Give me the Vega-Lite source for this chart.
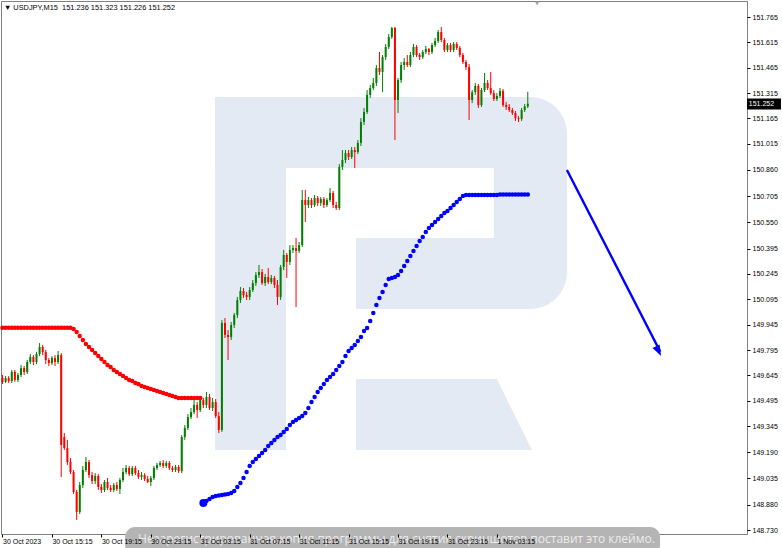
{
"$schema": "https://vega.github.io/schema/vega-lite/v6.json",
"width": 746, "height": 533,
"autosize": {"type": "none"},
"padding": {"left": 1, "top": 1, "right": 35, "bottom": 14},
"background": "white",
"config": {"view": {"stroke": "#808080", "strokeWidth": 1}, "font": "Liberation Sans"},
"datasets": {
"bars": [
{"t":"2023-10-30T11:15Z","o":149.629,"h":149.647,"l":149.594,"c":149.606,"r":149.927},
{"t":"2023-10-30T11:30Z","o":149.606,"h":149.641,"l":149.600,"c":149.629,"r":149.927},
{"t":"2023-10-30T11:45Z","o":149.629,"h":149.641,"l":149.600,"c":149.612,"r":149.927},
{"t":"2023-10-30T12:00Z","o":149.612,"h":149.677,"l":149.600,"c":149.665,"r":149.927},
{"t":"2023-10-30T12:15Z","o":149.665,"h":149.677,"l":149.606,"c":149.618,"r":149.927},
{"t":"2023-10-30T12:30Z","o":149.618,"h":149.659,"l":149.606,"c":149.647,"r":149.927},
{"t":"2023-10-30T12:45Z","o":149.647,"h":149.706,"l":149.635,"c":149.688,"r":149.927},
{"t":"2023-10-30T13:00Z","o":149.688,"h":149.700,"l":149.647,"c":149.665,"r":149.927},
{"t":"2023-10-30T13:15Z","o":149.665,"h":149.736,"l":149.653,"c":149.724,"r":149.927},
{"t":"2023-10-30T13:30Z","o":149.724,"h":149.771,"l":149.712,"c":149.754,"r":149.927},
{"t":"2023-10-30T13:45Z","o":149.754,"h":149.765,"l":149.706,"c":149.724,"r":149.927},
{"t":"2023-10-30T14:00Z","o":149.724,"h":149.783,"l":149.712,"c":149.771,"r":149.927},
{"t":"2023-10-30T14:15Z","o":149.771,"h":149.836,"l":149.759,"c":149.813,"r":149.927},
{"t":"2023-10-30T14:30Z","o":149.813,"h":149.825,"l":149.765,"c":149.783,"r":149.927},
{"t":"2023-10-30T14:45Z","o":149.783,"h":149.795,"l":149.712,"c":149.736,"r":149.927},
{"t":"2023-10-30T15:00Z","o":149.736,"h":149.748,"l":149.700,"c":149.718,"r":149.927},
{"t":"2023-10-30T15:15Z","o":149.718,"h":149.759,"l":149.706,"c":149.748,"r":149.927},
{"t":"2023-10-30T15:30Z","o":149.748,"h":149.765,"l":149.700,"c":149.724,"r":149.927},
{"t":"2023-10-30T15:45Z","o":149.724,"h":149.789,"l":149.712,"c":149.765,"r":149.927},
{"t":"2023-10-30T16:00Z","o":149.765,"h":149.777,"l":149.044,"c":149.233,"r":149.927},
{"t":"2023-10-30T16:15Z","o":149.280,"h":149.304,"l":149.204,"c":149.215,"r":149.927},
{"t":"2023-10-30T16:30Z","o":149.215,"h":149.263,"l":149.115,"c":149.132,"r":149.927},
{"t":"2023-10-30T16:45Z","o":149.132,"h":149.156,"l":149.061,"c":149.073,"r":149.927},
{"t":"2023-10-30T17:00Z","o":149.073,"h":149.085,"l":148.943,"c":148.955,"r":149.919},
{"t":"2023-10-30T17:15Z","o":148.955,"h":148.967,"l":148.790,"c":148.837,"r":149.901},
{"t":"2023-10-30T17:30Z","o":148.837,"h":149.014,"l":148.825,"c":148.996,"r":149.878},
{"t":"2023-10-30T17:45Z","o":148.996,"h":149.109,"l":148.979,"c":149.085,"r":149.854},
{"t":"2023-10-30T18:00Z","o":149.085,"h":149.162,"l":149.073,"c":149.132,"r":149.831},
{"t":"2023-10-30T18:15Z","o":149.132,"h":149.144,"l":149.038,"c":149.055,"r":149.813},
{"t":"2023-10-30T18:30Z","o":149.055,"h":149.073,"l":149.002,"c":149.020,"r":149.795},
{"t":"2023-10-30T18:45Z","o":149.020,"h":149.067,"l":149.002,"c":149.050,"r":149.777},
{"t":"2023-10-30T19:00Z","o":149.050,"h":149.061,"l":148.967,"c":148.985,"r":149.759},
{"t":"2023-10-30T19:15Z","o":148.985,"h":149.002,"l":148.949,"c":148.967,"r":149.742},
{"t":"2023-10-30T19:30Z","o":148.967,"h":149.026,"l":148.955,"c":149.014,"r":149.724},
{"t":"2023-10-30T19:45Z","o":149.014,"h":149.038,"l":148.967,"c":148.979,"r":149.706},
{"t":"2023-10-30T20:00Z","o":148.979,"h":148.996,"l":148.955,"c":148.967,"r":149.694},
{"t":"2023-10-30T20:15Z","o":148.967,"h":149.008,"l":148.955,"c":148.996,"r":149.677},
{"t":"2023-10-30T20:30Z","o":148.996,"h":149.014,"l":148.961,"c":148.973,"r":149.665},
{"t":"2023-10-30T20:45Z","o":148.973,"h":149.038,"l":148.943,"c":149.026,"r":149.653},
{"t":"2023-10-30T21:00Z","o":149.026,"h":149.097,"l":149.014,"c":149.073,"r":149.641},
{"t":"2023-10-30T21:15Z","o":149.073,"h":149.115,"l":149.061,"c":149.097,"r":149.629},
{"t":"2023-10-30T21:30Z","o":149.097,"h":149.109,"l":149.050,"c":149.061,"r":149.618},
{"t":"2023-10-30T21:45Z","o":149.061,"h":149.109,"l":149.050,"c":149.097,"r":149.612},
{"t":"2023-10-30T22:00Z","o":149.097,"h":149.109,"l":149.055,"c":149.067,"r":149.600},
{"t":"2023-10-30T22:15Z","o":149.067,"h":149.085,"l":149.032,"c":149.044,"r":149.594},
{"t":"2023-10-30T22:30Z","o":149.044,"h":149.073,"l":149.026,"c":149.055,"r":149.582},
{"t":"2023-10-30T22:45Z","o":149.055,"h":149.067,"l":149.020,"c":149.032,"r":149.576},
{"t":"2023-10-30T23:00Z","o":149.032,"h":149.050,"l":149.008,"c":149.014,"r":149.570},
{"t":"2023-10-30T23:15Z","o":149.014,"h":149.050,"l":148.990,"c":149.038,"r":149.564},
{"t":"2023-10-30T23:30Z","o":149.038,"h":149.109,"l":149.026,"c":149.097,"r":149.558},
{"t":"2023-10-30T23:45Z","o":149.097,"h":149.127,"l":149.085,"c":149.115,"r":149.553},
{"t":"2023-10-31T00:00Z","o":149.115,"h":149.138,"l":149.103,"c":149.127,"r":149.547},
{"t":"2023-10-31T00:15Z","o":149.127,"h":149.144,"l":149.097,"c":149.109,"r":149.541},
{"t":"2023-10-31T00:30Z","o":149.109,"h":149.138,"l":149.097,"c":149.127,"r":149.535},
{"t":"2023-10-31T00:45Z","o":149.127,"h":149.138,"l":149.085,"c":149.097,"r":149.529},
{"t":"2023-10-31T01:00Z","o":149.097,"h":149.109,"l":149.073,"c":149.085,"r":149.523},
{"t":"2023-10-31T01:15Z","o":149.085,"h":149.115,"l":149.073,"c":149.103,"r":149.517},
{"t":"2023-10-31T01:30Z","o":149.103,"h":149.115,"l":149.067,"c":149.079,"r":149.511},
{"t":"2023-10-31T01:45Z","o":149.079,"h":149.292,"l":149.067,"c":149.280,"r":149.511},
{"t":"2023-10-31T02:00Z","o":149.280,"h":149.351,"l":149.263,"c":149.334,"r":149.511},
{"t":"2023-10-31T02:15Z","o":149.334,"h":149.416,"l":149.322,"c":149.398,"r":149.511},
{"t":"2023-10-31T02:30Z","o":149.398,"h":149.452,"l":149.387,"c":149.428,"r":149.511},
{"t":"2023-10-31T02:45Z","o":149.428,"h":149.511,"l":149.416,"c":149.470,"r":149.511},
{"t":"2023-10-31T03:00Z","o":149.470,"h":149.487,"l":149.393,"c":149.440,"r":149.511},
{"t":"2023-10-31T03:15Z","o":149.440,"h":149.517,"l":149.428,"c":149.499,"r":149.511},
{"t":"2023-10-31T03:30Z","o":149.499,"h":149.511,"l":149.452,"c":149.470,"b":148.890},
{"t":"2023-10-31T03:45Z","o":149.470,"h":149.547,"l":149.452,"c":149.517,"b":148.902},
{"t":"2023-10-31T04:00Z","o":149.517,"h":149.535,"l":149.440,"c":149.452,"b":148.914},
{"t":"2023-10-31T04:15Z","o":149.452,"h":149.511,"l":149.434,"c":149.487,"b":148.925},
{"t":"2023-10-31T04:30Z","o":149.487,"h":149.505,"l":149.393,"c":149.404,"b":148.931},
{"t":"2023-10-31T04:45Z","o":149.404,"h":149.428,"l":149.304,"c":149.322,"b":148.934},
{"t":"2023-10-31T05:00Z","o":149.322,"h":149.972,"l":149.310,"c":149.955,"b":148.937},
{"t":"2023-10-31T05:15Z","o":149.955,"h":149.984,"l":149.866,"c":149.884,"b":148.940},
{"t":"2023-10-31T05:30Z","o":149.884,"h":149.913,"l":149.736,"c":149.872,"b":148.943},
{"t":"2023-10-31T05:45Z","o":149.872,"h":149.961,"l":149.854,"c":149.943,"b":148.949},
{"t":"2023-10-31T06:00Z","o":149.943,"h":150.014,"l":149.925,"c":150.002,"b":148.961},
{"t":"2023-10-31T06:15Z","o":150.002,"h":150.109,"l":149.984,"c":150.091,"b":148.985},
{"t":"2023-10-31T06:30Z","o":150.091,"h":150.168,"l":150.073,"c":150.144,"b":149.008},
{"t":"2023-10-31T06:45Z","o":150.144,"h":150.162,"l":150.103,"c":150.120,"b":149.038},
{"t":"2023-10-31T07:00Z","o":150.120,"h":150.138,"l":150.091,"c":150.109,"b":149.073},
{"t":"2023-10-31T07:15Z","o":150.109,"h":150.168,"l":150.091,"c":150.150,"b":149.109},
{"t":"2023-10-31T07:30Z","o":150.150,"h":150.209,"l":150.138,"c":150.191,"b":149.132},
{"t":"2023-10-31T07:45Z","o":150.191,"h":150.256,"l":150.174,"c":150.239,"b":149.150},
{"t":"2023-10-31T08:00Z","o":150.239,"h":150.298,"l":150.221,"c":150.256,"b":149.168},
{"t":"2023-10-31T08:15Z","o":150.256,"h":150.274,"l":150.180,"c":150.191,"b":149.186},
{"t":"2023-10-31T08:30Z","o":150.191,"h":150.245,"l":150.174,"c":150.227,"b":149.204},
{"t":"2023-10-31T08:45Z","o":150.227,"h":150.280,"l":150.185,"c":150.197,"b":149.227},
{"t":"2023-10-31T09:00Z","o":150.197,"h":150.239,"l":150.185,"c":150.221,"b":149.245},
{"t":"2023-10-31T09:15Z","o":150.221,"h":150.233,"l":150.162,"c":150.180,"b":149.263},
{"t":"2023-10-31T09:30Z","o":150.180,"h":150.209,"l":150.061,"c":150.109,"b":149.280},
{"t":"2023-10-31T09:45Z","o":150.109,"h":150.298,"l":150.091,"c":150.286,"b":149.292},
{"t":"2023-10-31T10:00Z","o":150.286,"h":150.387,"l":150.268,"c":150.357,"b":149.310},
{"t":"2023-10-31T10:15Z","o":150.357,"h":150.369,"l":150.221,"c":150.316,"b":149.328},
{"t":"2023-10-31T10:30Z","o":150.316,"h":150.416,"l":150.298,"c":150.387,"b":149.351},
{"t":"2023-10-31T10:45Z","o":150.387,"h":150.416,"l":150.369,"c":150.398,"b":149.369},
{"t":"2023-10-31T11:00Z","o":150.398,"h":150.458,"l":150.049,"c":150.381,"b":149.381},
{"t":"2023-10-31T11:15Z","o":150.381,"h":150.434,"l":150.369,"c":150.416,"b":149.393},
{"t":"2023-10-31T11:30Z","o":150.416,"h":150.742,"l":150.404,"c":150.682,"b":149.405},
{"t":"2023-10-31T11:45Z","o":150.682,"h":150.742,"l":150.552,"c":150.653,"b":149.422},
{"t":"2023-10-31T12:00Z","o":150.653,"h":150.700,"l":150.635,"c":150.682,"b":149.452},
{"t":"2023-10-31T12:15Z","o":150.682,"h":150.694,"l":150.635,"c":150.653,"b":149.487},
{"t":"2023-10-31T12:30Z","o":150.653,"h":150.712,"l":150.641,"c":150.694,"b":149.517},
{"t":"2023-10-31T12:45Z","o":150.694,"h":150.706,"l":150.647,"c":150.665,"b":149.547},
{"t":"2023-10-31T13:00Z","o":150.665,"h":150.700,"l":150.647,"c":150.688,"b":149.570},
{"t":"2023-10-31T13:15Z","o":150.688,"h":150.700,"l":150.635,"c":150.653,"b":149.594},
{"t":"2023-10-31T13:30Z","o":150.653,"h":150.694,"l":150.641,"c":150.682,"b":149.618},
{"t":"2023-10-31T13:45Z","o":150.682,"h":150.753,"l":150.671,"c":150.724,"b":149.635},
{"t":"2023-10-31T14:00Z","o":150.724,"h":150.736,"l":150.635,"c":150.653,"b":149.653},
{"t":"2023-10-31T14:15Z","o":150.653,"h":150.671,"l":150.623,"c":150.635,"b":149.677},
{"t":"2023-10-31T14:30Z","o":150.635,"h":150.895,"l":150.623,"c":150.878,"b":149.700},
{"t":"2023-10-31T14:45Z","o":150.878,"h":150.978,"l":150.860,"c":150.919,"b":149.724},
{"t":"2023-10-31T15:00Z","o":150.919,"h":150.978,"l":150.901,"c":150.960,"b":149.759},
{"t":"2023-10-31T15:15Z","o":150.960,"h":150.978,"l":150.919,"c":150.937,"b":149.789},
{"t":"2023-10-31T15:30Z","o":150.937,"h":150.996,"l":150.925,"c":150.978,"b":149.807},
{"t":"2023-10-31T15:45Z","o":150.978,"h":150.996,"l":150.872,"c":150.966,"b":149.825},
{"t":"2023-10-31T16:00Z","o":150.966,"h":151.037,"l":150.955,"c":151.020,"b":149.848},
{"t":"2023-10-31T16:15Z","o":151.020,"h":151.167,"l":151.002,"c":151.144,"b":149.872},
{"t":"2023-10-31T16:30Z","o":151.144,"h":151.227,"l":151.126,"c":151.203,"b":149.907},
{"t":"2023-10-31T16:45Z","o":151.203,"h":151.333,"l":151.191,"c":151.304,"b":149.925},
{"t":"2023-10-31T17:00Z","o":151.304,"h":151.363,"l":151.286,"c":151.345,"b":149.967},
{"t":"2023-10-31T17:15Z","o":151.345,"h":151.404,"l":151.333,"c":151.375,"b":150.014},
{"t":"2023-10-31T17:30Z","o":151.375,"h":151.481,"l":151.357,"c":151.463,"b":150.061},
{"t":"2023-10-31T17:45Z","o":151.463,"h":151.558,"l":151.422,"c":151.440,"b":150.103},
{"t":"2023-10-31T18:00Z","o":151.440,"h":151.540,"l":151.321,"c":151.528,"b":150.138},
{"t":"2023-10-31T18:15Z","o":151.528,"h":151.605,"l":151.511,"c":151.588,"b":150.180},
{"t":"2023-10-31T18:30Z","o":151.588,"h":151.664,"l":151.576,"c":151.647,"b":150.215},
{"t":"2023-10-31T18:45Z","o":151.647,"h":151.706,"l":151.635,"c":151.700,"b":150.221},
{"t":"2023-10-31T19:00Z","o":151.700,"h":151.706,"l":151.037,"c":151.274,"b":150.227},
{"t":"2023-10-31T19:15Z","o":151.274,"h":151.404,"l":151.197,"c":151.392,"b":150.239},
{"t":"2023-10-31T19:30Z","o":151.392,"h":151.499,"l":151.375,"c":151.481,"b":150.262},
{"t":"2023-10-31T19:45Z","o":151.481,"h":151.522,"l":151.452,"c":151.499,"b":150.292},
{"t":"2023-10-31T20:00Z","o":151.499,"h":151.540,"l":151.469,"c":151.481,"b":150.321},
{"t":"2023-10-31T20:15Z","o":151.481,"h":151.558,"l":151.469,"c":151.540,"b":150.351},
{"t":"2023-10-31T20:30Z","o":151.540,"h":151.605,"l":151.528,"c":151.588,"b":150.381},
{"t":"2023-10-31T20:45Z","o":151.588,"h":151.599,"l":151.528,"c":151.540,"b":150.410},
{"t":"2023-10-31T21:00Z","o":151.540,"h":151.552,"l":151.511,"c":151.528,"b":150.440},
{"t":"2023-10-31T21:15Z","o":151.528,"h":151.570,"l":151.517,"c":151.558,"b":150.464},
{"t":"2023-10-31T21:30Z","o":151.558,"h":151.594,"l":151.546,"c":151.576,"b":150.493},
{"t":"2023-10-31T21:45Z","o":151.576,"h":151.582,"l":151.540,"c":151.558,"b":150.517},
{"t":"2023-10-31T22:00Z","o":151.558,"h":151.611,"l":151.546,"c":151.599,"b":150.535},
{"t":"2023-10-31T22:15Z","o":151.599,"h":151.641,"l":151.588,"c":151.623,"b":150.552},
{"t":"2023-10-31T22:30Z","o":151.623,"h":151.688,"l":151.611,"c":151.676,"b":150.570},
{"t":"2023-10-31T22:45Z","o":151.676,"h":151.706,"l":151.617,"c":151.629,"b":150.588},
{"t":"2023-10-31T23:00Z","o":151.629,"h":151.641,"l":151.558,"c":151.570,"b":150.605},
{"t":"2023-10-31T23:15Z","o":151.570,"h":151.611,"l":151.558,"c":151.599,"b":150.617},
{"t":"2023-10-31T23:30Z","o":151.599,"h":151.611,"l":151.558,"c":151.570,"b":150.635},
{"t":"2023-10-31T23:45Z","o":151.570,"h":151.617,"l":151.558,"c":151.605,"b":150.653},
{"t":"2023-11-01T00:00Z","o":151.605,"h":151.617,"l":151.570,"c":151.582,"b":150.671},
{"t":"2023-11-01T00:15Z","o":151.582,"h":151.594,"l":151.528,"c":151.540,"b":150.688},
{"t":"2023-11-01T00:30Z","o":151.540,"h":151.552,"l":151.487,"c":151.499,"b":150.706},
{"t":"2023-11-01T00:45Z","o":151.499,"h":151.511,"l":151.452,"c":151.469,"b":150.712},
{"t":"2023-11-01T01:00Z","o":151.469,"h":151.487,"l":151.156,"c":151.274,"b":150.712},
{"t":"2023-11-01T01:15Z","o":151.274,"h":151.333,"l":151.256,"c":151.321,"b":150.712},
{"t":"2023-11-01T01:30Z","o":151.321,"h":151.375,"l":151.304,"c":151.357,"b":150.712},
{"t":"2023-11-01T01:45Z","o":151.357,"h":151.369,"l":151.227,"c":151.244,"b":150.712},
{"t":"2023-11-01T02:00Z","o":151.244,"h":151.345,"l":151.233,"c":151.333,"b":150.712},
{"t":"2023-11-01T02:15Z","o":151.333,"h":151.434,"l":151.321,"c":151.375,"b":150.712},
{"t":"2023-11-01T02:30Z","o":151.375,"h":151.392,"l":151.333,"c":151.345,"b":150.712},
{"t":"2023-11-01T02:45Z","o":151.345,"h":151.440,"l":151.304,"c":151.315,"b":150.712},
{"t":"2023-11-01T03:00Z","o":151.315,"h":151.333,"l":151.268,"c":151.280,"b":150.712},
{"t":"2023-11-01T03:15Z","o":151.280,"h":151.315,"l":151.268,"c":151.298,"b":150.712},
{"t":"2023-11-01T03:30Z","o":151.298,"h":151.345,"l":151.286,"c":151.327,"b":150.715},
{"t":"2023-11-01T03:45Z","o":151.327,"h":151.339,"l":151.233,"c":151.244,"b":150.715},
{"t":"2023-11-01T04:00Z","o":151.244,"h":151.262,"l":151.215,"c":151.233,"b":150.715},
{"t":"2023-11-01T04:15Z","o":151.233,"h":151.250,"l":151.203,"c":151.215,"b":150.715},
{"t":"2023-11-01T04:30Z","o":151.215,"h":151.227,"l":151.185,"c":151.197,"b":150.715},
{"t":"2023-11-01T04:45Z","o":151.197,"h":151.209,"l":151.150,"c":151.167,"b":150.715},
{"t":"2023-11-01T05:00Z","o":151.167,"h":151.179,"l":151.144,"c":151.162,"b":150.715},
{"t":"2023-11-01T05:15Z","o":151.162,"h":151.227,"l":151.150,"c":151.215,"b":150.715},
{"t":"2023-11-01T05:30Z","o":151.215,"h":151.250,"l":151.203,"c":151.236,"b":150.715},
{"t":"2023-11-01T05:45Z","o":151.236,"h":151.323,"l":151.226,"c":151.252,"b":150.715}
],
"logo": [
{"t1":"2023-10-31T04:27Z","t2":"2023-10-31T10:11Z","p1":151.292,"p2":149.204},
{"t1":"2023-10-31T04:27Z","t2":"2023-11-01T03:15Z","p1":151.292,"p2":150.872},
{"t1":"2023-10-31T15:51Z","t2":"2023-11-01T03:15Z","p1":150.458,"p2":150.038}
],
"leg": [
{"t":"2023-10-31T15:51Z","p1":149.623,"p2":149.204},
{"t":"2023-11-01T03:15Z","p1":149.623,"p2":149.204},
{"t":"2023-11-01T06:05Z","p1":149.204,"p2":149.204}
]
},
"layer": [
{"data": {"name": "logo"}, "mark": {"type": "rect", "color": "#e4eaf3"},
 "encoding": {
  "x": {"field": "t1", "type": "temporal",
        "scale": {"type": "utc", "domain": [1698664063500, 1698881346000], "nice": false, "padding": 0},
        "axis": {"values": [1698664500000,1698678900000,1698693300000,1698707700000,1698722100000,1698736500000,1698750900000,1698765300000,1698779700000,1698794100000,1698808500000],
                 "tickCount": 40,
                 "labelExpr": "datum.value < 1698670000000 ? '30 Oct 2023' : utcFormat(datum.value, '%-d %b %H:%M')",
                 "title": null, "grid": false, "domain": false, "ticks": true, "tickSize": 3, "tickColor": "#000000",
                 "labelAlign": "left", "labelBaseline": "top", "labelPadding": 0, "labelDx": 2,
                 "labelFont": "Liberation Sans", "labelFontSize": 7, "labelColor": "#000000",
                 "labelOverlap": false, "labelFlush": false, "zindex": 1}},
  "x2": {"field": "t2"},
  "y": {"field": "p1", "type": "quantitative",
        "scale": {"domain": [148.7065, 151.8597], "nice": false, "zero": false, "padding": 0},
        "axis": {"orient": "right", "values": [151.765,151.615,151.465,151.315,151.165,151.015,150.860,150.705,150.550,150.395,150.245,150.095,149.945,149.795,149.645,149.495,149.345,149.190,149.035,148.880,148.730],
                 "tickCount": 60,
                 "format": ".3f", "title": null, "grid": false, "domain": false, "tickSize": 3, "tickColor": "#000000",
                 "labelPadding": 2, "labelFont": "Liberation Sans", "labelFontSize": 7, "labelColor": "#000000",
                 "labelOverlap": false, "labelFlush": false, "labelBaseline": "middle"}},
  "y2": {"field": "p2"}
 }},
{"data": {"values": [{"t1":"2023-11-01T03:00Z","t2":"2023-11-01T08:55Z","p1":151.292,"p2":150.038}]},
 "mark": {"type": "rect", "color": "#e4eaf3", "cornerRadiusTopRight": 70, "cornerRadiusBottomRight": 70},
 "encoding": {"x": {"field": "t1", "type": "temporal"}, "x2": {"field": "t2"},
              "y": {"field": "p1", "type": "quantitative"}, "y2": {"field": "p2"}}},
{"data": {"name": "leg"}, "mark": {"type": "area", "color": "#e4eaf3", "opacity": 1},
 "encoding": {"x": {"field": "t", "type": "temporal"},
              "y": {"field": "p1", "type": "quantitative"}, "y2": {"field": "p2"}}},
{"mark": {"type": "rule", "color": "#c0c0c0", "strokeWidth": 1},
 "encoding": {"y": {"datum": 151.252, "type": "quantitative"}}},
{"mark": {"type": "rule", "color": "#1f7f1f", "strokeWidth": 1.3},
 "encoding": {"y": {"datum": 150.721, "type": "quantitative"}}},
{"data": {"name": "bars"}, "mark": {"type": "rule", "strokeWidth": 1},
 "encoding": {"x": {"field": "t", "type": "temporal"},
              "y": {"field": "h", "type": "quantitative"}, "y2": {"field": "l"},
              "color": {"condition": {"test": "datum.c >= datum.o", "value": "#008000"}, "value": "#ff0000"}}},
{"data": {"name": "bars"}, "mark": {"type": "bar", "size": 2},
 "encoding": {"x": {"field": "t", "type": "temporal"},
              "y": {"field": "o", "type": "quantitative"}, "y2": {"field": "c"},
              "color": {"condition": {"test": "datum.c >= datum.o", "value": "#008000"}, "value": "#ff0000"}}},
{"data": {"name": "bars"}, "transform": [{"filter": "datum.r != null"}],
 "mark": {"type": "circle", "size": 20, "color": "#ff0000", "opacity": 1},
 "encoding": {"x": {"field": "t", "type": "temporal"},
              "y": {"field": "r", "type": "quantitative"}}},
{"data": {"name": "bars"}, "transform": [{"filter": "datum.b != null"}],
 "mark": {"type": "circle", "size": 20, "color": "#0000ff", "opacity": 1},
 "encoding": {"x": {"field": "t", "type": "temporal"},
              "y": {"field": "b", "type": "quantitative"}}},
{"data": {"name": "bars"},
 "transform": [{"filter": "datum.b != null"}, {"window": [{"op": "row_number", "as": "k"}], "sort": [{"field": "t", "order": "ascending"}]}, {"filter": "datum.k == 1"}],
 "mark": {"type": "circle", "size": 64, "color": "#0000ff", "opacity": 1},
 "encoding": {"x": {"field": "t", "type": "temporal"},
              "y": {"field": "b", "type": "quantitative"}}},
{"data": {"values": [{"t":"2023-11-01T08:55Z","p":150.860},{"t":"2023-11-01T16:28Z","p":149.785}]},
 "mark": {"type": "line", "color": "#0000ff", "strokeWidth": 2.4},
 "encoding": {"x": {"field": "t", "type": "temporal"},
              "y": {"field": "p", "type": "quantitative"}}},
{"data": {"values": [{"t":"2023-11-01T16:32Z","p":149.759}]},
 "mark": {"type": "point", "shape": "M0,0L-0.8,2.2L0.8,2.2Z", "filled": true, "color": "#0000ff", "size": 100, "angle": 153, "opacity": 1, "strokeWidth": 0},
 "encoding": {"x": {"field": "t", "type": "temporal"},
              "y": {"field": "p", "type": "quantitative"}}},
{"data": {"values": [{"t1":"2023-11-01T23:29Z","t2":"2023-11-02T02:14Z","p1":151.283,"p2":151.218}]},
 "mark": {"type": "rect", "color": "#000000"},
 "encoding": {"x": {"field": "t1", "type": "temporal"}, "x2": {"field": "t2"},
              "y": {"field": "p1", "type": "quantitative"}, "y2": {"field": "p2"}}},
{"data": {"values": [{"t":"2023-11-01T23:38Z","p":151.2505,"s":"151.252"}]},
 "mark": {"type": "text", "color": "#ffffff", "align": "left", "baseline": "middle", "font": "Liberation Sans", "fontSize": 7},
 "encoding": {"x": {"field": "t", "type": "temporal"},
              "y": {"field": "p", "type": "quantitative"}, "text": {"field": "s"}}},
{"data": {"values": [{"t1":"2023-10-30T21:10Z","t2":"2023-11-01T16:27Z","p1":148.748,"p2":148.58}]},
 "mark": {"type": "rect", "color": "#b4b4b4", "cornerRadius": 10},
 "encoding": {"x": {"field": "t1", "type": "temporal"}, "x2": {"field": "t2"},
              "y": {"field": "p1", "type": "quantitative"}, "y2": {"field": "p2"}}},
{"data": {"values": [{"t":"2023-11-01T16:02Z","p":148.677,"s":"Незарегистрированная копия программы для снятия скриншотов поставит это клеймо."}]},
 "mark": {"type": "text", "color": "#ececec", "align": "right", "baseline": "middle", "font": "Open Sans", "fontSize": 12},
 "encoding": {"x": {"field": "t", "type": "temporal"},
              "y": {"field": "p", "type": "quantitative"}, "text": {"field": "s"}}},
{"data": {"values": [{"t":"2023-10-30T11:22Z","p":151.818,"s":"▼ USDJPY,M15\u00a0\u00a0151.236 151.323 151.226 151.252"}]},
 "mark": {"type": "text", "color": "#000000", "align": "left", "baseline": "middle", "font": "Liberation Sans", "fontSize": 7.4},
 "encoding": {"x": {"field": "t", "type": "temporal"},
              "y": {"field": "p", "type": "quantitative"}, "text": {"field": "s"}}},
{"data": {"values": [{"t":"2023-11-01T06:30Z","p":151.846}]},
 "mark": {"type": "point", "shape": "triangle-down", "filled": true, "color": "#a0a0a0", "size": 20, "opacity": 1},
 "encoding": {"x": {"field": "t", "type": "temporal"},
              "y": {"field": "p", "type": "quantitative"}}}
]
}
